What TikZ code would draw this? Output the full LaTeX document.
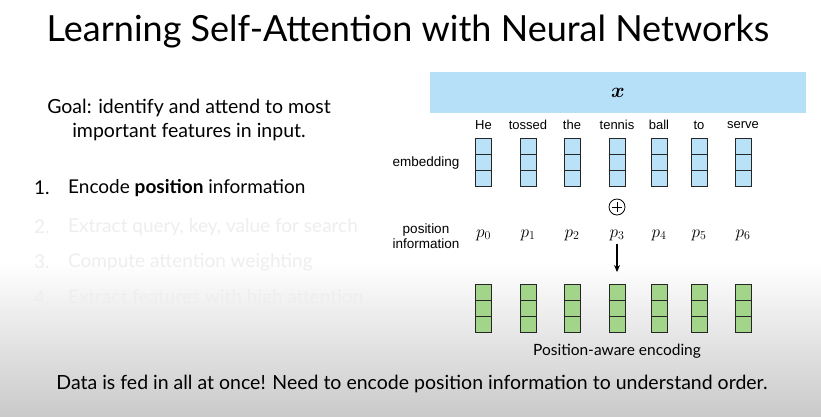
\documentclass[tikz,border=0pt]{standalone}
\usepackage{amsmath}
\usepackage{bm}
\usepackage{fontspec}
\setmainfont{Lato}
\newfontfamily\helv{Liberation Sans}
\usetikzlibrary{arrows.meta,calc}
\definecolor{barblue}{HTML}{B6E0F8}
\definecolor{cellblue}{HTML}{B9E1F7}
\definecolor{cellgreen}{HTML}{A2D48A}
\definecolor{fadetext}{HTML}{EEEEEE}
\definecolor{bggrey}{HTML}{CACACA}
\tikzset{
  col/.style={draw=black!85, line width=0.9pt, minimum width=16pt, minimum height=48pt, inner sep=0pt},
  embcol/.style={col, fill=cellblue},
  enccol/.style={col, fill=cellgreen},
  word/.style={font=\helv\fontsize{13}{15}\selectfont, inner sep=0pt},
  sidelabel/.style={font=\helv\fontsize{13.5}{14.5}\selectfont, align=center, inner sep=0pt},
  posvar/.style={font=\fontsize{18}{20}\selectfont, inner sep=0pt},
  listitem/.style={font=\fontsize{19}{22}\selectfont, anchor=west, inner sep=0pt},
  arr/.style={-{Stealth[length=7pt,width=6pt]}, line width=1.1pt},
}
\begin{document}
\begin{tikzpicture}[x=1pt,y=-1pt]
\useasboundingbox (0,0) rectangle (821,416);
\fill[white] (0,0) rectangle (821,416);
\shade[top color=white, bottom color=bggrey] (0,262) rectangle (821,416);
% title
\node[font=\fontsize{36}{40}\selectfont, inner sep=0pt] (title) at (408,32) {Learning Self-Attention with Neural Networks};
% goal
\node[font=\fontsize{19.5}{24}\selectfont, align=center, inner sep=0pt] (goal) at (189,120) {Goal: identify and attend to most\\important features in input.};
% list
\node[listitem] (n1) at (34,188) {1.};
\node[listitem] (i1) at (68,188) {Encode \textbf{position} information};
\node[listitem, text=fadetext] (n2) at (34,227) {2.};
\node[listitem, text=fadetext] (i2) at (68,227) {Extract query, key, value for search};
\node[listitem, text=fadetext] (n3) at (34,262) {3.};
\node[listitem, text=fadetext] (i3) at (68,262) {Compute attention weighting};
\node[listitem, text=fadetext] (n4) at (34,298) {4.};
\node[listitem, text=fadetext] (i4) at (68,298) {Extract features with high attention};
% input bar
\node[fill=barblue, minimum width=376pt, minimum height=41pt, inner sep=0pt] (bar) at (618,92.5) {};
\node[font=\fontsize{22}{24}\selectfont, inner sep=0pt] (xlab) at (bar) {$\bm{x}$};
% side labels
\node[sidelabel] (emblab) at (426,163) {embedding};
\node[sidelabel] (poslab) at (426,236) {position\\information};
% columns
\foreach \i/\xx/\w in {0/483.5/He,1/528/tossed,2/572/the,3/617/tennis,4/659/ball,5/699/to,6/743/serve}{
  \node[word] (w\i) at (\xx,125) {\w};
  \node[embcol] (e\i) at (\xx,162.5) {};
  \draw[black!85, line width=0.9pt] ($(e\i.north west)!1/3!(e\i.south west)$) -- ($(e\i.north east)!1/3!(e\i.south east)$);
  \draw[black!85, line width=0.9pt] ($(e\i.north west)!2/3!(e\i.south west)$) -- ($(e\i.north east)!2/3!(e\i.south east)$);
  \node[posvar] (p\i) at (\xx,235) {$p_{\i}$};
  \node[enccol] (g\i) at (\xx,308.5) {};
  \draw[black!85, line width=0.9pt] ($(g\i.north west)!1/3!(g\i.south west)$) -- ($(g\i.north east)!1/3!(g\i.south east)$);
  \draw[black!85, line width=0.9pt] ($(g\i.north west)!2/3!(g\i.south west)$) -- ($(g\i.north east)!2/3!(g\i.south east)$);
}
% plus
\node[draw, circle, line width=0.8pt, minimum size=16pt, inner sep=0pt] (plus) at (617,207) {};
\draw[line width=0.8pt] ($(plus.center)+(-5,0)$) -- ($(plus.center)+(5,0)$);
\draw[line width=0.8pt] ($(plus.center)+(0,-5)$) -- ($(plus.center)+(0,5)$);
% arrow
\draw[arr, shorten <=3pt, shorten >=12pt] (p3.south) -- (g3.north);
% caption
\node[font=\fontsize{15.5}{18}\selectfont, inner sep=0pt] (cap) at (617,351) {Position-aware encoding};
% bottom
\node[font=\fontsize{19.5}{22}\selectfont, inner sep=0pt] (bottom) at (412,384) {Data is fed in all at once! Need to encode position information to understand order.};
\end{tikzpicture}
\end{document}
